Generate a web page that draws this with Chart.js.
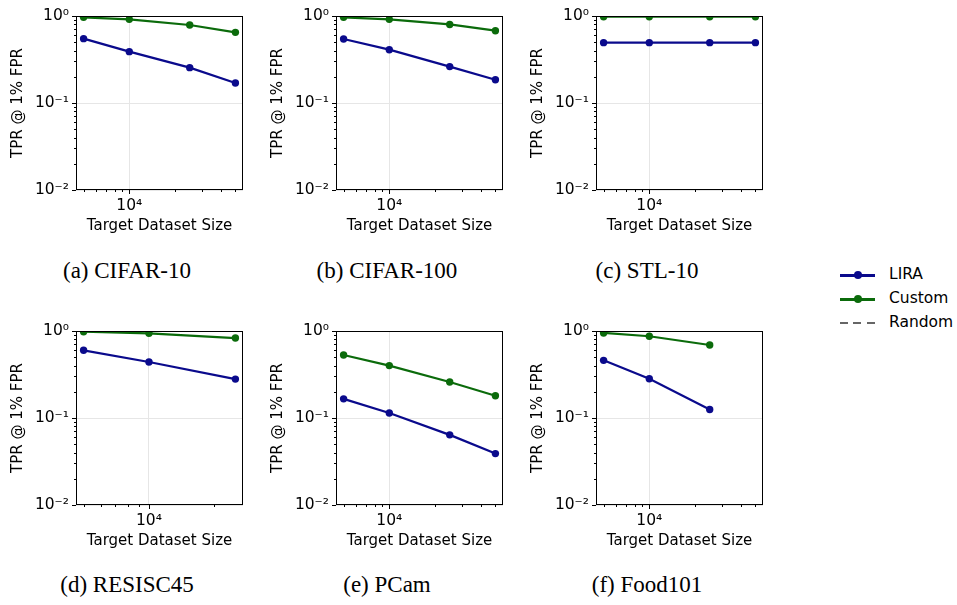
<!DOCTYPE html>
<html>
<head>
<meta charset="utf-8">
<script src="https://cdn.jsdelivr.net/npm/chart.js@4.4.0/dist/chart.umd.min.js"></script>
<style>
  body { margin: 0; background: #fff; width: 957px; height: 605px; position: relative; overflow: hidden; }
  canvas { position: absolute; }
  .cap { position: absolute; width: 260px; text-align: center; font-family: "Liberation Serif", serif;
         font-size: 23px; line-height: 23px; color: #000; white-space: nowrap; }
  .leg { position: absolute; left: 840px; font-family: "DejaVu Sans", sans-serif; font-size: 15.5px; color: #000; }
  .leg .row { position: absolute; left: 0; height: 20px; width: 120px; }
  .leg .ln { position: absolute; left: 0; top: 8.5px; width: 35px; height: 3px; }
  .leg .dot { position: absolute; left: 13.5px; top: 6px; width: 8px; height: 8px; border-radius: 50%; }
  .leg .dash { position: absolute; left: 0; top: 9px; width: 35px; height: 2px;
               background: repeating-linear-gradient(to right, #666 0 8px, transparent 8px 13.5px); }
  .leg .txt { position: absolute; left: 49px; top: 0px; }
</style>
</head>
<body>
<div id="wrap"></div>
<div class="leg">
  <div class="row" style="top:265px"><div class="ln" style="background:#0a0a8c"></div><div class="dot" style="background:#0a0a8c"></div><div class="txt">LIRA</div></div>
  <div class="row" style="top:289px"><div class="ln" style="background:#0b6b0b"></div><div class="dot" style="background:#0b6b0b"></div><div class="txt">Custom</div></div>
  <div class="row" style="top:313px"><div class="dash"></div><div class="txt">Random</div></div>
</div>
<script>
// panels
const panelLetters = ['a', 'b', 'c', 'd', 'e', 'f'];
const panelNames = ['CIFAR-10', 'CIFAR-100', 'STL-10', 'RESISC45', 'PCam', 'Food101'];

// target dataset sizes per panel
const sizes = [
  [5000, 10000, 25000, 50000],
  [5000, 10000, 25000, 50000],
  [5000, 10000, 25000, 50000],
  [5000, 10000, 25000],
  [5000, 10000, 25000, 50000],
  [5000, 10000, 25000, 50000]
];

// TPR @ 1% FPR
const liraTpr = [
  [0.549, 0.389, 0.255, 0.170],
  [0.544, 0.410, 0.262, 0.185],
  [0.494, 0.494, 0.494, 0.494],
  [0.600, 0.440, 0.280],
  [0.166, 0.114, 0.064, 0.039],
  [0.460, 0.283, 0.125, null]
];
const customTpr = [
  [0.966, 0.915, 0.788, 0.649],
  [0.966, 0.915, 0.800, 0.678],
  [0.982, 0.982, 0.982, 0.982],
  [0.980, 0.940, 0.830],
  [0.530, 0.400, 0.259, 0.180],
  [0.950, 0.870, 0.690, null]
];
const randomTpr = 0.01;

// tick labels
const yMajorValues = [0.01, 0.1, 1];
const yMajorLabels = ['10\u207B\u00B2', '10\u207B\u00B9', '10\u2070'];
const xMajorValues = [1000, 10000, 100000];
const xMajorLabels = ['10\u00B3', '10\u2074', '10\u2075'];

const liraColor = '#0a0a8c';
const customColor = '#0b6b0b';
const font = { family: 'DejaVu Sans', size: 15 };
const tickFont = { family: 'DejaVu Sans', size: 15.5 };

Chart.defaults.color = '#000';
Chart.defaults.font = font;

function logTicks(min, max) {
  const out = [];
  for (let d = Math.floor(Math.log10(min)); d <= Math.ceil(Math.log10(max)); d++) {
    for (let m = 1; m <= 9; m++) {
      const v = m * Math.pow(10, d);
      if (v >= min * (1 - 1e-9) && v <= max * (1 + 1e-9)) out.push({ value: v, major: m === 1 });
    }
  }
  return out;
}
function isMajor(v) {
  const l = Math.log10(v);
  return Math.abs(l - Math.round(l)) < 1e-6;
}
function labelFor(v, vals, labels) {
  for (let i = 0; i < vals.length; i++) if (Math.abs(v - vals[i]) / vals[i] < 1e-6) return labels[i];
  return '';
}

// draws frame and outward ticks like matplotlib
const framePlugin = {
  id: 'frame',
  afterDraw(chart) {
    const { ctx, chartArea: a } = chart;
    const xs = chart.scales.x, ys = chart.scales.y;
    ctx.save();
    ctx.strokeStyle = '#000';
    ctx.lineWidth = 1;
    ctx.beginPath();
    ys.ticks.forEach(t => {
      const p = Math.round(ys.getPixelForValue(t.value)) + 0.5;
      const len = isMajor(t.value) ? 4 : 2;
      ctx.moveTo(a.left - len, p); ctx.lineTo(a.left, p);
    });
    xs.ticks.forEach(t => {
      const p = Math.round(xs.getPixelForValue(t.value)) + 0.5;
      const len = isMajor(t.value) ? 4 : 2;
      ctx.moveTo(p, a.bottom); ctx.lineTo(p, a.bottom + len);
    });
    ctx.stroke();
    ctx.strokeRect(a.left + 0.5, a.top + 0.5, a.right - a.left - 1, a.bottom - a.top - 1);
    ctx.restore();
  }
};

const wrap = document.getElementById('wrap');
panelNames.forEach((name, i) => {
  const col = i % 3, row = Math.floor(i / 3);
  const left = col * 260, top = row * 315;
  const cv = document.createElement('canvas');
  cv.width = 260; cv.height = 250;
  cv.style.left = left + 'px'; cv.style.top = top + 'px';
  wrap.appendChild(cv);

  const cap = document.createElement('div');
  cap.className = 'cap';
  cap.textContent = '(' + panelLetters[i] + ') ' + name;
  cap.style.left = (left - 3) + 'px';
  cap.style.top = (row === 0 ? 259 : 573) + 'px';
  wrap.appendChild(cap);

  const xs = sizes[i];
  const lo = Math.log10(Math.min(...xs)), hi = Math.log10(Math.max(...xs));
  const pad = (hi - lo) * 0.05;
  const xMin = Math.pow(10, lo - pad), xMax = Math.pow(10, hi + pad);

  new Chart(cv, {
    type: 'line',
    data: {
      datasets: [
        {
          label: 'LIRA',
          data: xs.map((x, j) => ({ x, y: liraTpr[i][j] })),
          borderColor: liraColor, backgroundColor: liraColor,
          borderWidth: 2.2, pointRadius: 3.7, pointHoverRadius: 3.7, pointBorderWidth: 0
        },
        {
          label: 'Custom',
          data: xs.map((x, j) => ({ x, y: customTpr[i][j] })),
          borderColor: customColor, backgroundColor: customColor,
          borderWidth: 2.2, pointRadius: 3.7, pointHoverRadius: 3.7, pointBorderWidth: 0
        },
        {
          label: 'Random',
          data: xs.map(x => ({ x, y: randomTpr })),
          borderColor: 'rgba(0,0,0,0.6)', borderWidth: 1.5, borderDash: [5.5, 2.4],
          pointRadius: 0
        }
      ]
    },
    options: {
      responsive: false,
      animation: false,
      devicePixelRatio: 1,
      layout: { padding: { top: 16, right: 17, left: 0, bottom: 0 } },
      plugins: { legend: { display: false }, tooltip: { enabled: false } },
      scales: {
        x: {
          type: 'logarithmic',
          min: xMin, max: xMax,
          afterBuildTicks: s => { s.ticks = logTicks(xMin, xMax); },
          afterFit: s => { s.height = 60; s.paddingLeft = 0; s.paddingRight = 0; },
          ticks: {
            autoSkip: false, maxRotation: 0, minRotation: 0, padding: 7, font: tickFont,
            callback: v => labelFor(v, xMajorValues, xMajorLabels)
          },
          grid: {
            drawTicks: false,
            color: c => (c.tick && isMajor(c.tick.value)) ? '#e6e6e6' : 'rgba(0,0,0,0)'
          },
          border: { display: false },
          title: { display: true, text: 'Target Dataset Size', font, padding: { top: 0, bottom: 15 } }
        },
        y: {
          type: 'logarithmic',
          min: 0.01, max: 1,
          afterBuildTicks: s => { s.ticks = logTicks(0.01, 1); },
          afterFit: s => { s.width = 76; s.paddingTop = 0; s.paddingBottom = 0; },
          ticks: {
            autoSkip: false, padding: 7, font: tickFont,
            callback: v => labelFor(v, yMajorValues, yMajorLabels)
          },
          grid: {
            drawTicks: false,
            color: c => (c.tick && isMajor(c.tick.value)) ? '#e6e6e6' : 'rgba(0,0,0,0)'
          },
          border: { display: false },
          title: { display: true, text: 'TPR @ 1% FPR', font, padding: { top: 9, bottom: 0 } }
        }
      }
    },
    plugins: [framePlugin]
  });
});
</script>
</body>
</html>
